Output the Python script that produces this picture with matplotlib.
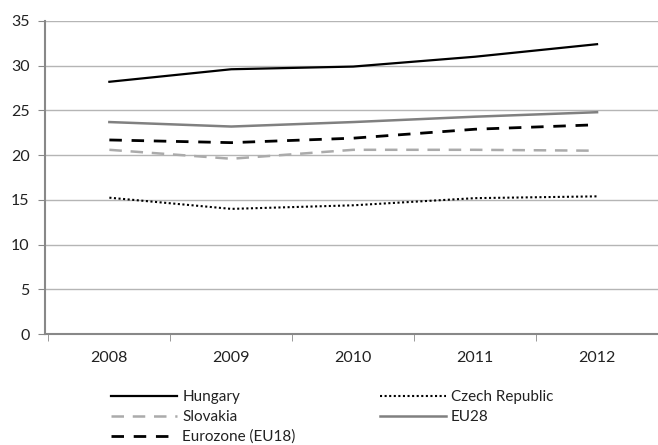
import numpy as np
import matplotlib.pyplot as plt

plt.rcParams['font.family'] = ['Lato', 'DejaVu Sans']

years = ['2008', '2009', '2010', '2011', '2012']
hungary = [28.2, 29.6, 29.9, 31.0, 32.4]
czech = [15.25, 14.0, 14.4, 15.2, 15.4]
slovakia = [20.6, 19.6, 20.6, 20.6, 20.5]
eu28 = [23.7, 23.2, 23.7, 24.3, 24.8]
eurozone = [21.7, 21.4, 21.9, 22.9, 23.4]

x = np.arange(len(years))

fig = plt.figure(figsize=(6.58, 4.45), dpi=100)
ax = fig.add_axes([0.068, 0.249, 0.932, 0.704])

l1, = ax.plot(x, hungary, color='black', lw=1.6, label='Hungary')
l3, = ax.plot(x, slovakia, color='#ababab', lw=1.8, dashes=(5, 3.5), label='Slovakia')
l5, = ax.plot(x, eurozone, color='black', lw=2.0, dashes=(4.5, 3.5), label='Eurozone (EU18)')
l2, = ax.plot(x, czech, color='black', lw=1.5, ls=(0, (1, 1.2)), label='Czech Republic')
l4, = ax.plot(x, eu28, color='#808080', lw=1.8, label='EU28')

ax.set_ylim(0, 35)
ax.set_yticks(range(0, 36, 5))
ax.set_xlim(-0.53, 4.45)
ax.set_xticks(x)
ax.set_xticklabels(years)
ax.set_xticks(np.arange(-0.5, 4.6, 1), minor=True)
ax.tick_params(axis='x', which='major', length=0, pad=12, labelsize=11.5, colors='#222222')
ax.tick_params(axis='x', which='minor', length=5, color='#888888', direction='out')
ax.tick_params(axis='y', length=5, color='#888888', labelsize=11.5, colors='#222222', pad=6)

ax.grid(axis='y', color='#b5b5b5', lw=1.0)
ax.set_axisbelow(True)
for s in ['top', 'right']:
    ax.spines[s].set_visible(False)
for s in ['left', 'bottom']:
    ax.spines[s].set_color('#888888')
    ax.spines[s].set_linewidth(1.5)

handles = [l1, l3, l5, l2, l4]
leg = fig.legend(handles, [h.get_label() for h in handles], ncol=2, frameon=False,
                 loc='upper left', bbox_to_anchor=(0.16, 0.137),
                 fontsize=11, handlelength=4.3, handletextpad=0.35,
                 columnspacing=5.5, labelspacing=0.38, borderaxespad=0)
for t in leg.get_texts():
    t.set_color('#222222')

fig.savefig('out.png', dpi=100)
